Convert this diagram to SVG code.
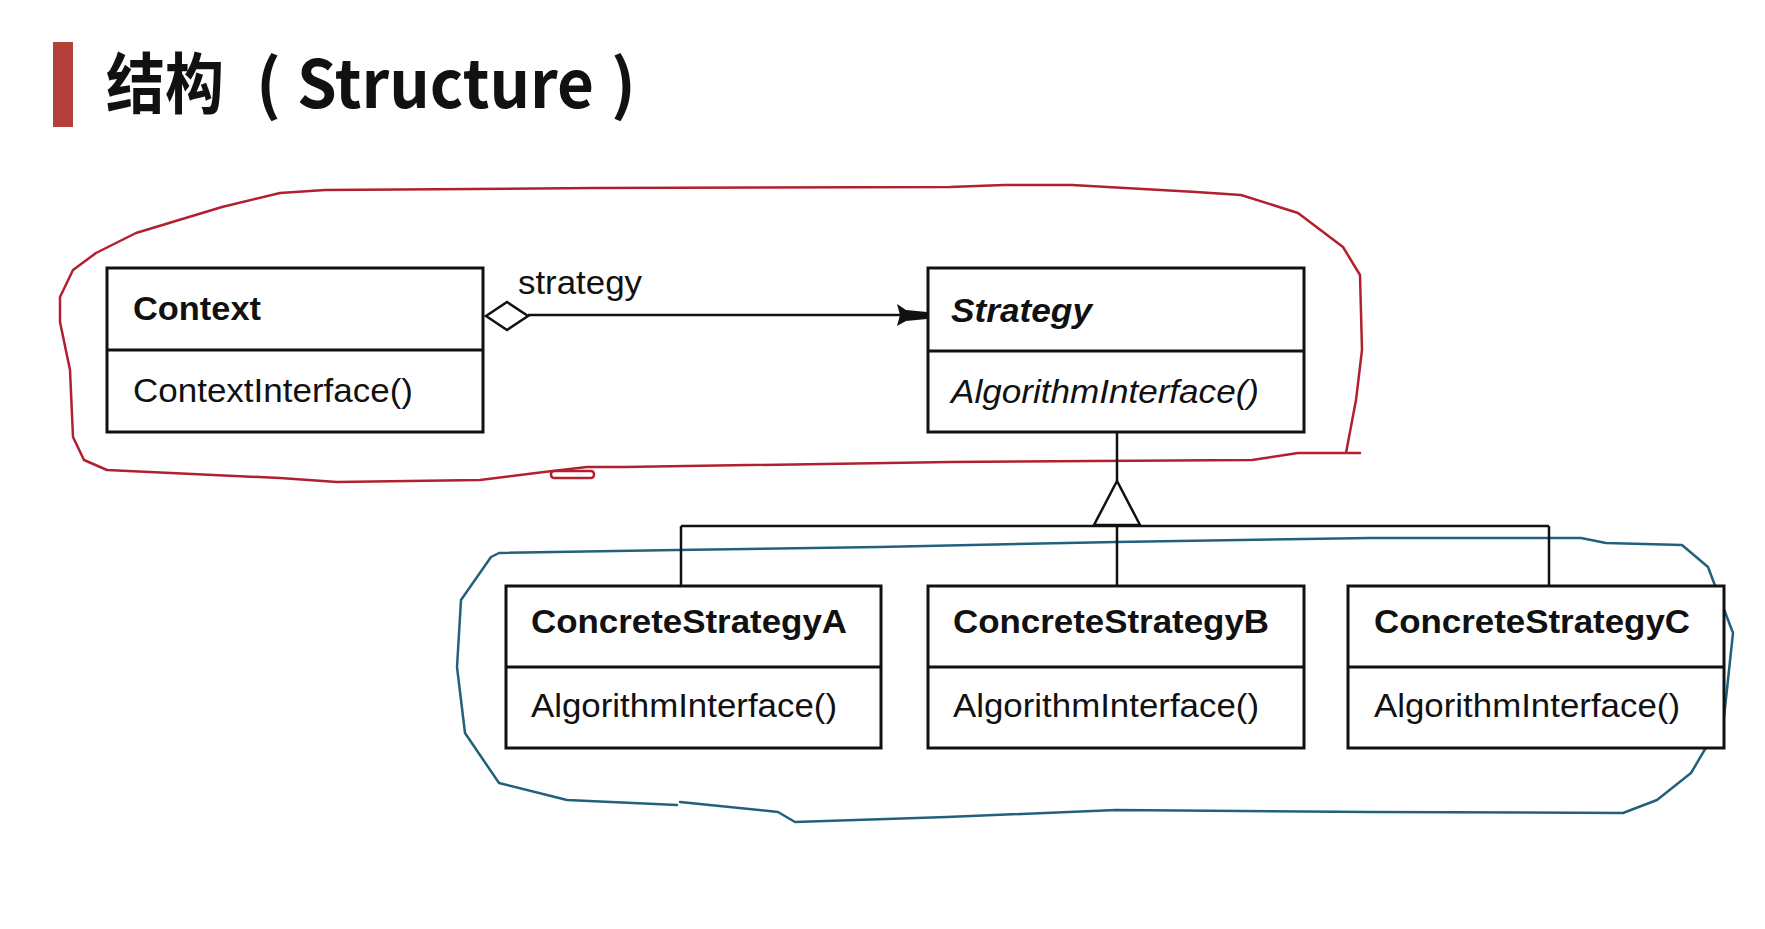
<svg xmlns="http://www.w3.org/2000/svg" width="1765" height="929" viewBox="0 0 1765 929">
<style>
.box{fill:#fff;stroke:#111;stroke-width:3}
.div{stroke:#111;stroke-width:3}
.con{stroke:#111;stroke-width:2.5;fill:none}
.t{font-family:"Liberation Sans",Arial,sans-serif;font-size:33px;fill:#111}
.b{font-weight:bold}
.i{font-style:italic}
.title{font-family:"Noto Sans CJK SC","Noto Sans",sans-serif;font-weight:bold;font-size:66px;fill:#111}
.red{fill:none;stroke:#b0202f;stroke-width:2.5;stroke-linejoin:round;stroke-linecap:round}
.blue{fill:none;stroke:#22607c;stroke-width:2.5;stroke-linejoin:round;stroke-linecap:round}
</style>
<rect width="1765" height="929" fill="#fff"/>
<g id="title">
<rect x="53" y="42" width="20" height="85" fill="#b5403b"/>
<text class="title" y="108"><tspan x="106" textLength="118" lengthAdjust="spacingAndGlyphs">结构</tspan><tspan x="256">(</tspan><tspan x="297" textLength="297" lengthAdjust="spacingAndGlyphs">Structure</tspan><tspan x="611">)</tspan></text>
</g>
<g id="annotations">
<path class="red" d="M1360,453 L1298,453 L1252,460 L950,462 L624,467 L587,467 L544,472 L480,480 L337,482 L280,478 L107,470 L84,460 L73,437 L70,370 L60,322 L60,297 L73,270 L96,253 L136,233 L222,207 L280,193 L325,190 L595,188 L950,187 L1004,185 L1072,185 L1196,192 L1241,195 L1298,213 L1343,247 L1360,275 L1362,350 L1356,400 L1346,453"/>
<rect class="red" x="551" y="471" width="43" height="7" rx="3"/>
<path class="blue" d="M677,805 L567,800 L499,783 L465,733 L457,667 L461,600 L491,557 L499,553 L677,550 L879,547 L1116,542 L1370,538 L1581,538 L1606,543 L1682,545 L1708,567 L1733,633 L1724,717 L1691,773 L1657,800 L1623,813 L1370,812 L1116,810 L947,817 L795,822 L778,812 L680,802"/>
</g>
<g id="connectors">
<line class="con" x1="528" y1="315" x2="900" y2="315"/>
<polygon points="486,316 507,302 528,316 507,330" fill="#fff" stroke="#111" stroke-width="2.5"/>
<polygon points="897,304 906,310 927,312 927,319 906,321 897,326 900,315" fill="#111"/>
<line class="con" x1="1117" y1="432" x2="1117" y2="481"/>
<polygon points="1117,481 1094,525 1140,525" fill="#fff" stroke="#111" stroke-width="2.5"/>
<line class="con" x1="681" y1="526" x2="1549" y2="526"/>
<line class="con" x1="681" y1="526" x2="681" y2="586"/>
<line class="con" x1="1117" y1="526" x2="1117" y2="586"/>
<line class="con" x1="1549" y1="526" x2="1549" y2="586"/>
<text class="t" x="518" y="294" font-size="31" textLength="124" lengthAdjust="spacingAndGlyphs">strategy</text>
</g>
<g id="Context">
<rect class="box" x="107" y="268" width="376" height="164"/>
<line class="div" x1="107" y1="350" x2="483" y2="350"/>
<text class="t b" x="133" y="320" textLength="128" lengthAdjust="spacingAndGlyphs">Context</text>
<text class="t" x="133" y="402" textLength="280" lengthAdjust="spacingAndGlyphs">ContextInterface()</text>
</g>
<g id="Strategy">
<rect class="box" x="928" y="268" width="376" height="164"/>
<line class="div" x1="928" y1="351" x2="1304" y2="351"/>
<text class="t b i" x="951" y="322" textLength="141" lengthAdjust="spacingAndGlyphs">Strategy</text>
<text class="t i" x="951" y="403" textLength="308" lengthAdjust="spacingAndGlyphs">AlgorithmInterface()</text>
</g>
<g id="ConcreteStrategyA">
<rect class="box" x="506" y="586" width="375" height="162"/>
<line class="div" x1="506" y1="667" x2="881" y2="667"/>
<text class="t b" x="531" y="633" textLength="316" lengthAdjust="spacingAndGlyphs">ConcreteStrategyA</text>
<text class="t" x="531" y="717" textLength="306" lengthAdjust="spacingAndGlyphs">AlgorithmInterface()</text>
</g>
<g id="ConcreteStrategyB">
<rect class="box" x="928" y="586" width="376" height="162"/>
<line class="div" x1="928" y1="667" x2="1304" y2="667"/>
<text class="t b" x="953" y="633" textLength="316" lengthAdjust="spacingAndGlyphs">ConcreteStrategyB</text>
<text class="t" x="953" y="717" textLength="306" lengthAdjust="spacingAndGlyphs">AlgorithmInterface()</text>
</g>
<g id="ConcreteStrategyC">
<rect class="box" x="1348" y="586" width="376" height="162"/>
<line class="div" x1="1348" y1="667" x2="1724" y2="667"/>
<text class="t b" x="1374" y="633" textLength="316" lengthAdjust="spacingAndGlyphs">ConcreteStrategyC</text>
<text class="t" x="1374" y="717" textLength="306" lengthAdjust="spacingAndGlyphs">AlgorithmInterface()</text>
</g>
</svg>
